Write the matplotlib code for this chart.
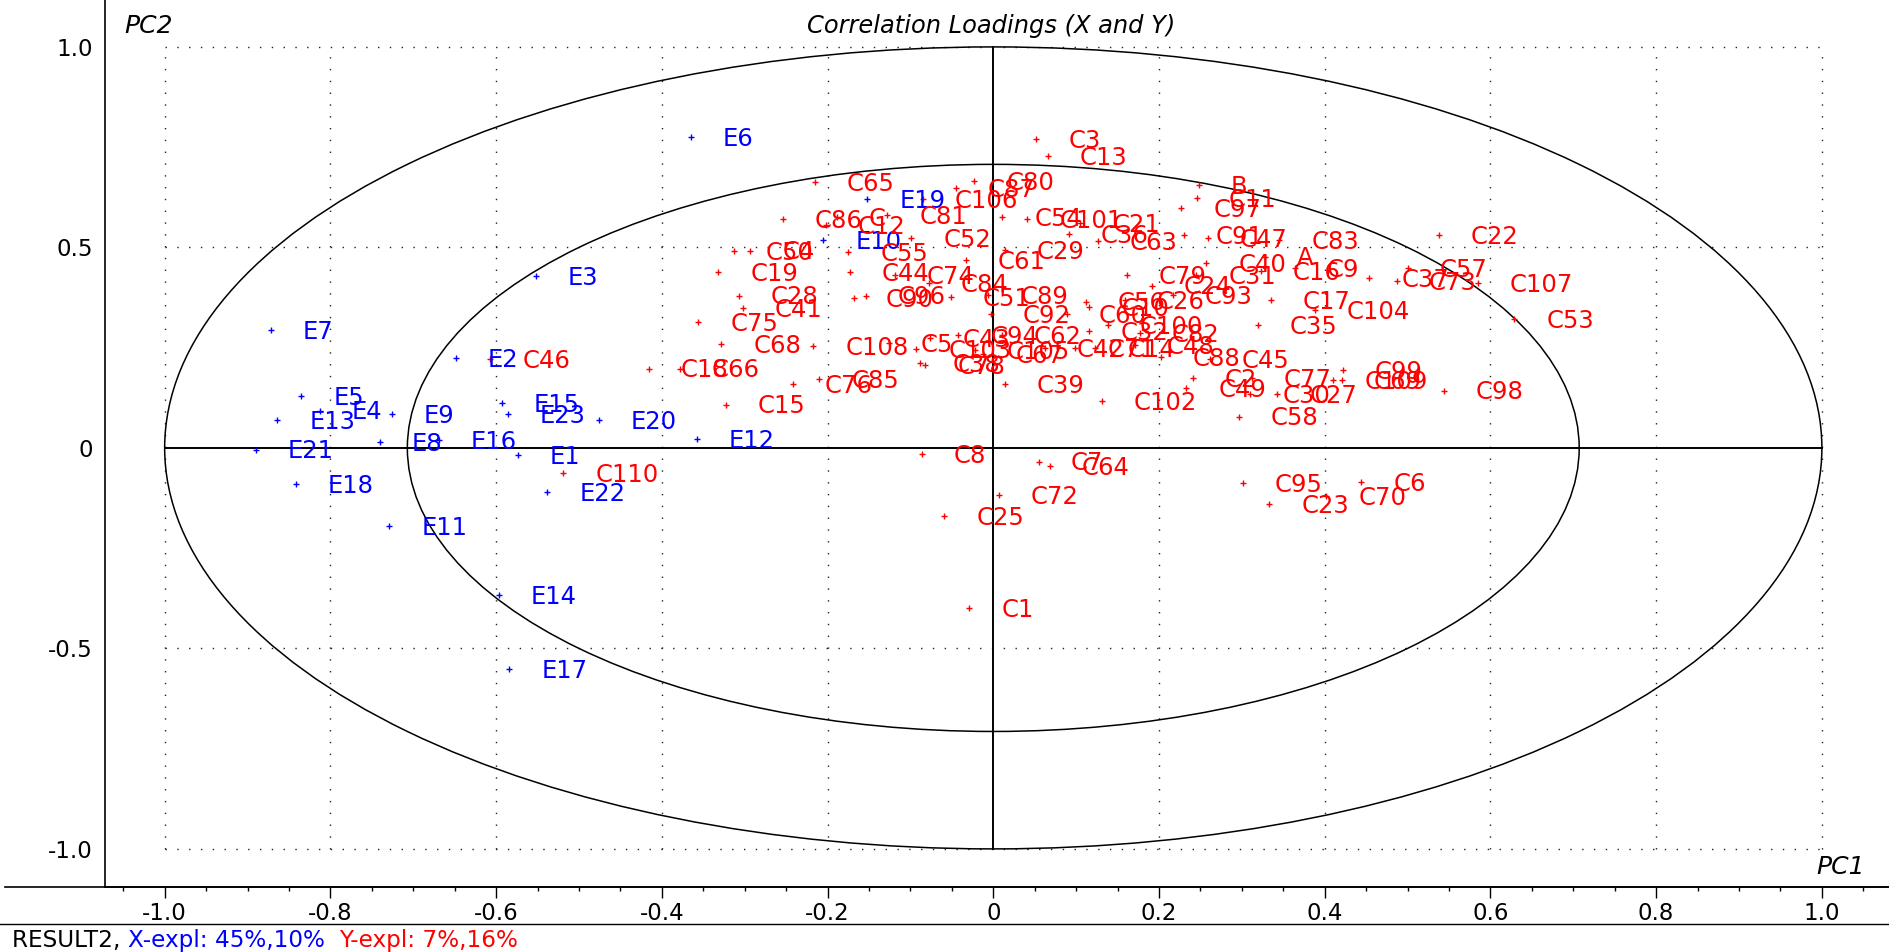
import matplotlib
matplotlib.use("Agg")
import matplotlib.pyplot as plt
from matplotlib.patches import Ellipse
from matplotlib.lines import Line2D
import numpy as np

# ---- X loadings (E variables) ----
e_labels = ["E1", "E2", "E3", "E4", "E5", "E6", "E7", "E8", "E9", "E10", "E11", "E12",
            "E13", "E14", "E15", "E16", "E17", "E18", "E19", "E20", "E21", "E22", "E23"]
e_pc1 = [-0.574, -0.649, -0.552, -0.813, -0.835, -0.365, -0.872, -0.740, -0.726, -0.205, -0.729, -0.358,
         -0.864, -0.597, -0.593, -0.669, -0.584, -0.842, -0.152, -0.476, -0.890, -0.538, -0.586]
e_pc2 = [-0.018, 0.224, 0.429, 0.093, 0.129, 0.776, 0.294, 0.015, 0.085, 0.519, -0.194, 0.022,
         0.069, -0.366, 0.111, 0.020, -0.551, -0.091, 0.621, 0.069, -0.004, -0.110, 0.084]

# ---- Y loadings (A, B, C and C1..C110) ----
c_labels = ["A", "B", "C", "C1", "C2", "C3", "C4", "C5", "C6", "C7", "C8", "C9", "C10", "C11", "C12", "C13",
            "C14", "C15", "C16", "C17", "C18", "C19", "C21", "C22", "C23", "C24", "C25", "C26", "C27",
            "C28", "C29", "C30", "C31", "C32", "C35", "C36", "C37", "C38", "C39", "C40", "C41", "C42",
            "C43", "C44", "C45", "C46", "C47", "C48", "C49", "C50", "C51", "C52", "C53", "C54", "C55",
            "C56", "C57", "C58", "C60", "C61", "C62", "C63", "C64", "C65", "C66", "C67", "C68",
            "C69", "C70", "C71", "C72", "C73", "C74", "C75", "C76", "C77", "C78", "C79", "C80", "C81",
            "C82", "C83", "C84", "C85", "C86", "C87", "C88", "C89", "C90", "C91", "C92", "C93", "C94",
            "C95", "C96", "C97", "C98", "C99", "C100", "C101", "C102", "C103", "C104", "C105", "C106",
            "C107", "C108", "C109", "C110"]
c_pc1 = [0.328, 0.248, -0.189, -0.029, 0.241, 0.052, -0.293, -0.126, 0.444, 0.055, -0.086, 0.364, 0.116, 0.246, -0.202, 0.066,
         0.123, -0.323, 0.323, 0.335, -0.416, -0.332, 0.105, 0.538, 0.333, 0.191, -0.059, 0.159, 0.343,
         -0.307, 0.014, 0.310, 0.245, 0.115, 0.319, 0.091, 0.454, -0.088, 0.014, 0.257, -0.302, 0.062,
         -0.076, -0.173, 0.261, -0.607, 0.259, 0.171, 0.233, -0.313, -0.051, -0.099, 0.629, 0.011, -0.175,
         0.112, 0.500, 0.296, 0.089, -0.033, 0.010, 0.126, 0.068, -0.215, -0.378, -0.012, -0.328,
         0.421, 0.402, 0.099, 0.007, 0.487, -0.119, -0.356, -0.242, 0.312, -0.082, 0.161, -0.023, -0.128,
         0.177, 0.345, -0.078, -0.210, -0.254, -0.045, 0.202, -0.006, -0.168, 0.230, -0.003, 0.217, -0.042,
         0.301, -0.154, 0.227, 0.544, 0.422, 0.138, 0.041, 0.131, -0.093, 0.388, -0.022, -0.085,
         0.585, -0.217, 0.410, -0.519]
c_pc2 = [0.477, 0.656, 0.575, -0.400, 0.175, 0.770, 0.492, 0.261, -0.086, -0.034, -0.015, 0.449, 0.351, 0.624, 0.556, 0.727,
         0.249, 0.108, 0.440, 0.369, 0.198, 0.438, 0.560, 0.530, -0.140, 0.405, -0.170, 0.369, 0.135,
         0.380, 0.494, 0.135, 0.431, 0.292, 0.307, 0.533, 0.423, 0.211, 0.160, 0.461, 0.348, 0.249,
         0.274, 0.438, 0.222, 0.222, 0.523, 0.257, 0.149, 0.490, 0.377, 0.523, 0.321, 0.575, 0.488,
         0.365, 0.448, 0.078, 0.334, 0.468, 0.282, 0.515, -0.045, 0.662, 0.198, 0.235, 0.259,
         0.170, -0.120, 0.249, -0.118, 0.416, 0.431, 0.313, 0.160, 0.174, 0.207, 0.432, 0.666, 0.581,
         0.286, 0.519, 0.411, 0.172, 0.571, 0.647, 0.226, 0.382, 0.373, 0.530, 0.333, 0.382, 0.282,
         -0.088, 0.380, 0.599, 0.143, 0.195, 0.307, 0.570, 0.116, 0.247, 0.344, 0.244, 0.620,
         0.411, 0.254, 0.170, -0.062]

x_ticks = [-1.0, -0.8, -0.6, -0.4, -0.2, 0.0, 0.2, 0.4, 0.6, 0.8, 1.0]
x_tick_labels = ["-1.0", "-0.8", "-0.6", "-0.4", "-0.2", "0", "0.2", "0.4", "0.6", "0.8", "1.0"]
y_ticks = [-1.0, -0.5, 0.0, 0.5, 1.0]
y_tick_labels = ["-1.0", "-0.5", "0", "0.5", "1.0"]

RED = "#ff0000"
BLUE = "#0000ff"
plt.rcParams["font.family"] = ["DejaVu Sans"]

LABEL_PT = 17.5
W, H = 1889, 952
fig = plt.figure(figsize=(W / 100, H / 100), dpi=100)
ax_left, ax_bottom_px = 105, 887
ax = fig.add_axes([ax_left / W, (H - ax_bottom_px) / H, (W - ax_left) / W, ax_bottom_px / H])
ax.set_xlim(-1.072, 1.081)
ax.set_ylim(-1.095, 1.117)

# dotted grid inside the unit square
dot = (0, (1, 7.5))
for xv in x_ticks:
    if xv != 0:
        ax.plot([xv, xv], [-1, 1], ls=dot, lw=1.0, color="#222222", zorder=1)
for yv in [-1.0, -0.5, 0.5, 1.0]:
    ax.plot([-1, 1], [yv, yv], ls=dot, lw=1.0, color="#222222", zorder=1)

# axes cross
ax.plot([-1, 1], [0, 0], color="black", lw=1.4, zorder=2)
ax.plot([0, 0], [-1, 1], color="black", lw=1.4, zorder=2)

# 100% and 50% explained-variance ellipses
for r in (1.0, np.sqrt(0.5)):
    ax.add_patch(Ellipse((0, 0), 2 * r, 2 * r, fill=False, ec="black", lw=1.1, zorder=2))

# points and labels (label cap-centre level with the point)
cap_half = 0.729 * LABEL_PT * 100 / 72 / 2
ax.plot(e_pc1, e_pc2, "+", color=BLUE, ms=4, mew=1.0, zorder=3)
ax.plot(c_pc1, c_pc2, "+", color=RED, ms=4, mew=1.0, zorder=3)
for lbl, x, y in zip(e_labels, e_pc1, e_pc2):
    ax.annotate(lbl, (x, y), xytext=(32, -cap_half), textcoords="offset pixels",
                va="baseline", ha="left", color=BLUE, fontsize=LABEL_PT, zorder=4)
for lbl, x, y in zip(c_labels, c_pc1, c_pc2):
    ax.annotate(lbl, (x, y), xytext=(32, -cap_half), textcoords="offset pixels",
                va="baseline", ha="left", color=RED, fontsize=LABEL_PT, zorder=4)

# axis styling
for s in ("top", "right"):
    ax.spines[s].set_visible(False)
ax.spines["left"].set_linewidth(1.2)
ax.spines["bottom"].set_linewidth(1.2)
ax.set_xticks(x_ticks)
ax.set_xticklabels(x_tick_labels)
ax.set_xticks(np.arange(-1.05, 1.051, 0.05), minor=True)
ax.set_yticks(y_ticks)
ax.set_yticklabels(y_tick_labels)
ax.tick_params(axis="x", which="major", length=8, width=1, pad=3, labelsize=16.5)
ax.tick_params(axis="x", which="minor", length=3, width=1)
ax.tick_params(axis="y", which="major", length=0, pad=9, labelsize=16.5)

# extend the baseline and the status separator over the full width
fig.add_artist(Line2D([5 / W, 1], [(H - ax_bottom_px) / H] * 2, color="black", lw=1.2))
fig.add_artist(Line2D([0, 1], [(H - 924) / H] * 2, color="black", lw=1.0))

fig.text(991 / W, 1 - 26 / H, "Correlation Loadings (X and Y)", ha="center", va="center",
         style="italic", fontsize=17.4)
fig.text(124 / W, 1 - 26 / H, "PC2", ha="left", va="center", style="italic", fontsize=18)
fig.text(1865 / W, 1 - 867 / H, "PC1", ha="right", va="center", style="italic", fontsize=18)

# status line
renderer = fig.canvas.get_renderer()
xpos = 12
for txt, col in (("RESULT2, ", "black"), ("X-expl: 45%,10%  ", BLUE), ("Y-expl: 7%,16%", RED)):
    t = fig.text(xpos / W, (H - 940) / H, txt, ha="left", va="center", color=col, fontsize=16.7)
    xpos += t.get_window_extent(renderer).width

fig.savefig("out.png", dpi=100, facecolor="white")
